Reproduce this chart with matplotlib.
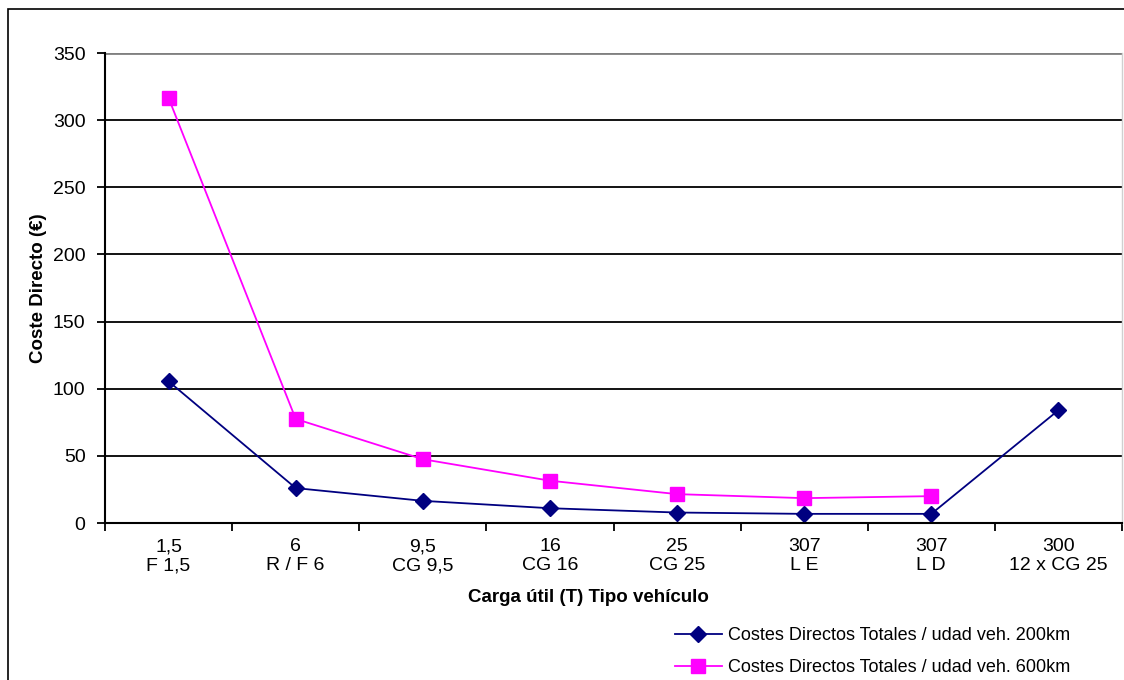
import numpy as np
import matplotlib
matplotlib.use('Agg')
import matplotlib.pyplot as plt
from matplotlib.patches import Rectangle

# ==============================================================================
# Data
carga = ['1,5', '6', '9,5', '16', '25', '307', '307', '300']
tipo = ['F 1,5', 'R / F 6', 'CG 9,5', 'CG 16', 'CG 25', 'L E', 'L D', '12 x CG 25']
coste_200 = [105.5, 26, 16.5, 11, 7.8, 6.8, 6.8, 84]
coste_600 = [316.5, 77.5, 47.5, 31.5, 21.5, 18.5, 20, np.nan]

label_200 = 'Costes Directos Totales / udad veh. 200km'
label_600 = 'Costes Directos Totales / udad veh. 600km'
# ==============================================================================
# Plot settings
plt.rcParams['font.family'] = ['Liberation Sans', 'DejaVu Sans']
TF = 14     # tick font
LBF = 13.5  # label font
LGF = 13    # legend font

fig = plt.figure(figsize=(11.24, 6.8), dpi=100)
ax = fig.add_axes([105/1124, 1 - 523/680, 1017/1124, 470/680])

x = np.arange(len(carga))
ax.plot(x, coste_200, color='#000080', lw=1.3, marker='D', ms=8.5,
        mec='#000080', mfc='#000080', label=label_200, clip_on=False)
ax.plot(x, coste_600, color='#FF00FF', lw=1.3, marker='s', ms=10.5,
        mec='#FF00FF', mfc='#FF00FF', label=label_600, clip_on=False)

ax.set_xlim(-0.5, len(carga) - 0.5)
ax.set_ylim(0, 350)
ax.set_yticks(np.arange(0, 351, 50))
ax.yaxis.grid(True, color='black', lw=1.3)
ax.set_axisbelow(True)

# category ticks between categories, labels centred
ax.set_xticks(np.arange(-0.5, len(carga)), minor=False)
ax.set_xticklabels([])
ax.set_xticks(x, minor=True)
ax.set_xticklabels([f'{c}\n{t}' for c, t in zip(carga, tipo)], minor=True,
                   fontsize=TF, linespacing=1.15)
ax.tick_params(axis='x', which='minor', length=0, pad=11)
ax.tick_params(axis='x', which='major', direction='out', length=6, width=1.3)
ax.tick_params(axis='y', direction='out', length=6, width=1.3, labelsize=TF, pad=8)

ax.spines['top'].set_visible(False)
ax.spines['right'].set_color('#d0d0d0')
ax.spines['right'].set_linewidth(1)
ax.spines['left'].set_linewidth(1.5)
ax.spines['bottom'].set_linewidth(1.5)
top_grid = ax.get_ygridlines()[-1]
top_grid.set_color('#808080')
top_grid.set_linewidth(2)

ax.set_ylabel('Coste Directo (€)', fontsize=LBF, fontweight='bold', labelpad=4)
fig.text(588/1124, 1 - 598/680, 'Carga útil (T) Tipo vehículo', fontsize=LBF,
         fontweight='bold', ha='center', va='center')

fig.legend(loc='upper left', bbox_to_anchor=(675/1124, 1 - 627/680), frameon=False,
           fontsize=LGF, handlelength=2.6, handletextpad=0.33, labelspacing=0.85,
           borderaxespad=0, borderpad=0)

# outer chart frame
fig.patches.append(Rectangle((8/1124, -0.1), 1.2, 1 - 9/680 + 0.1,
                             transform=fig.transFigure, fill=False,
                             edgecolor='black', lw=1.2))

fig.savefig('out.png', dpi=100)
